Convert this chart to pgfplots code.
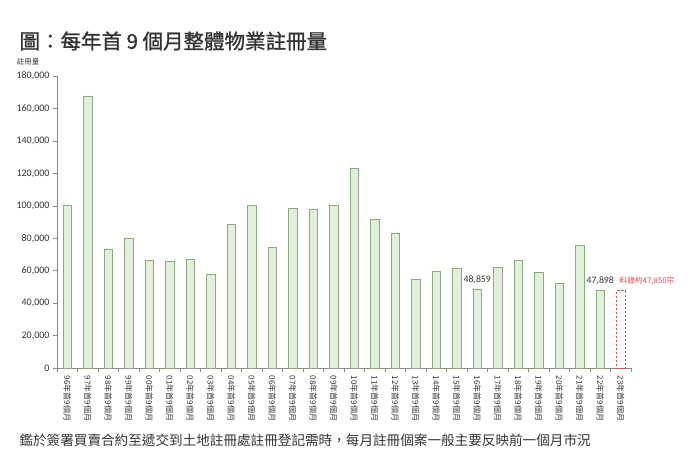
\documentclass[border=0pt]{standalone}
\usepackage{fontspec}
\setmainfont{Carlito}
\newfontfamily\cjk{Noto Sans CJK TC}
\newfontfamily\cjktitle[FakeBold=1.2]{Noto Sans CJK TC}
\usepackage{pgfplots}
\pgfplotsset{compat=1.18}

\definecolor{barfill}{HTML}{E2EFDA}
\definecolor{barline}{HTML}{8EA882}
\definecolor{axisgray}{HTML}{8A8A8A}
\definecolor{txt}{HTML}{333333}
\definecolor{redlbl}{HTML}{E8474B}

\begin{document}
\begin{tikzpicture}
\path[use as bounding box] (0,0) rectangle (700pt,451pt);

\node[anchor=west, text=txt, font=\cjktitle\fontsize{20.5}{22}\selectfont] at (16pt,410pt)
  {圖：每年首 9 個月整體物業註冊量};

\node[anchor=west, text=txt, font=\cjk\fontsize{13.6}{15}\selectfont] at (16pt,11pt)
  {鑑於簽署買賣合約至遞交到土地註冊處註冊登記需時，每月註冊個案一般主要反映前一個月市況};

\begin{axis}[
    at={(57pt,82.7pt)}, anchor=south west,
    scale only axis, width=574pt, height=292.3pt,
    xmin=-0.5, xmax=27.5, ymin=0, ymax=180000,
    axis lines*=left,
    axis line style={draw=axisgray, line width=0.8pt},
    clip=false,
    tick align=outside,
    xtick={0,...,27},
    major x tick style={draw=none},
    minor xtick={-0.5,0.5,...,27.5},
    minor tick length=4pt,
    minor x tick style={draw=axisgray, line width=0.8pt},
    ytick={0,20000,...,180000},
    major tick length=4pt,
    major y tick style={draw=axisgray, line width=0.8pt},
    scaled y ticks=false,
    yticklabel style={/pgf/number format/.cd, fixed, 1000 sep={,}, assume math mode=true},
    tick label style={text=txt, font=\fontsize{10}{10}\selectfont},
    xticklabels={96年首9個月,97年首9個月,98年首9個月,99年首9個月,00年首9個月,01年首9個月,02年首9個月,03年首9個月,04年首9個月,05年首9個月,06年首9個月,07年首9個月,08年首9個月,09年首9個月,10年首9個月,11年首9個月,12年首9個月,13年首9個月,14年首9個月,15年首9個月,16年首9個月,17年首9個月,18年首9個月,19年首9個月,20年首9個月,21年首9個月,22年首9個月,23年首9個月},
    xticklabel style={rotate=-90, anchor=west, font=\cjk\fontsize{8}{8}\selectfont},
    ylabel={註冊量},
    ylabel style={rotate=-90, at={(rel axis cs:0,1)}, anchor=center, xshift=-29pt, yshift=14pt,
                  font=\cjk\fontsize{7.5}{8}\selectfont, text=txt},
]
% 首9個月註冊量
\addplot[ybar, bar width=8.7pt, bar shift=0pt, fill=barfill, draw=barline, line width=0.8pt]
  coordinates {
    (0,100600) (1,167700) (2,73500) (3,80000) (4,66700) (5,65900) (6,67300)
    (7,57700) (8,88400) (9,100300) (10,74500) (11,98700) (12,98100) (13,100300)
    (14,122900) (15,91500) (16,82900) (17,54800) (18,59500) (19,61600)
    (20,48859) (21,62000) (22,66700) (23,59300) (24,52300) (25,75700) (26,47898)
  };
% 23年 預測
\addplot[ybar, bar width=8.7pt, bar shift=0pt, fill=white, draw=redlbl,
    dash pattern=on 2.5pt off 1.5pt, line width=0.8pt,
    nodes near coords={料錄約47,850宗},
    nodes near coords style={anchor=south west, xshift=-5pt, yshift=2pt, text=redlbl, solid,
                             font=\cjk\fontsize{7.8}{8}\selectfont}]
  coordinates {(27,47850)};
% 數據標籤
\addplot[draw=none, mark=none, nodes near coords, point meta=explicit symbolic,
    nodes near coords style={anchor=south, yshift=2pt, text=txt, font=\fontsize{9.8}{10}\selectfont}]
  coordinates {(20,48859)[48,859] (26,47898)[47,898]};
\end{axis}
\end{tikzpicture}
\end{document}
